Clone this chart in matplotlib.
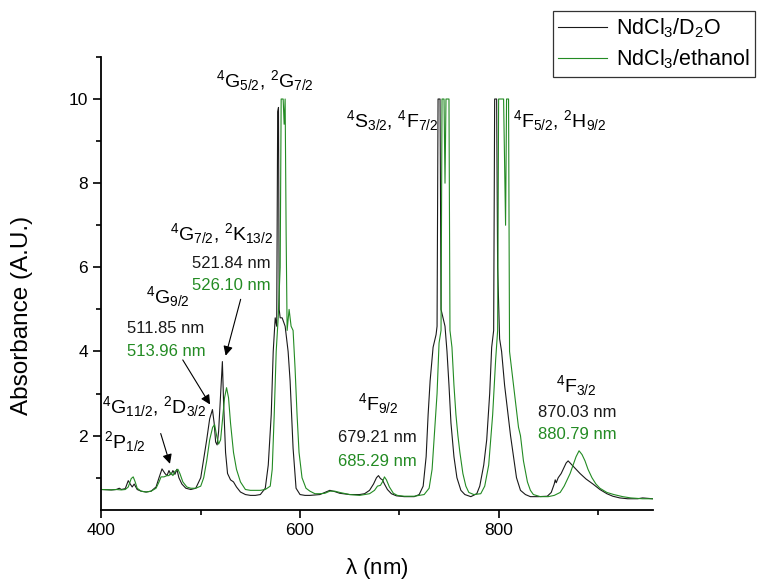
import matplotlib
matplotlib.use('Agg')
import matplotlib.pyplot as plt
from matplotlib.ticker import MultipleLocator

plt.rcParams['font.family'] = ['Liberation Sans', 'DejaVu Sans']
plt.rcParams['mathtext.fontset'] = 'custom'
plt.rcParams['mathtext.rm'] = 'Liberation Sans'
plt.rcParams['mathtext.it'] = 'Liberation Sans'
plt.rcParams['mathtext.default'] = 'regular'

# NdCl3 in D2O
d2o_nm = [400, 410, 415, 418, 420, 424, 427, 429, 431, 433, 436, 440, 445, 450, 455,
          458, 461, 464, 466, 468, 470, 472, 474, 476, 478, 481, 485, 490, 495, 500,
          503, 506, 509, 511.8, 513.5, 515, 516.5, 518, 520, 521.8, 523, 525, 527, 530,
          533, 536, 540, 545, 550, 555, 560, 565, 568, 571, 573, 575, 576.5, 577.5, 578.3,
          579, 580, 582, 585, 588, 590, 593, 596, 600, 605, 610, 620, 625, 630, 635, 640,
          650, 660, 665, 670, 674, 677, 679, 681, 683, 685, 688, 692, 697, 705, 715, 720,
          724, 727, 729, 731, 734, 737, 738, 739, 741, 742, 744, 746, 748, 750, 752, 755,
          758, 762, 766, 772, 778, 781, 785, 788, 791, 793, 795, 796, 798, 799, 801, 803,
          806, 809, 812, 815, 818, 822, 827, 832, 840, 849, 853, 856, 857, 858, 860, 863,
          866, 868, 870, 872, 876, 882, 888, 895, 902, 909, 915, 922, 930, 940, 945, 955]
d2o_abs = [0.72, 0.71, 0.72, 0.75, 0.72, 0.74, 0.93, 0.85, 0.78, 0.85, 0.72, 0.68, 0.66, 0.68, 0.78,
           1.0, 1.21, 1.1, 1.05, 1.17, 1.07, 1.17, 1.08, 1.2, 1.0, 0.85, 0.75, 0.72, 0.75, 1.0,
           1.45, 1.9, 2.4, 2.62, 2.3, 1.85, 1.78, 2.1, 3.0, 3.76, 2.8, 1.6, 1.1, 0.95,
           0.9, 0.78, 0.66, 0.6, 0.58, 0.58, 0.6, 0.75, 1.3, 2.5, 4.0, 4.8, 4.6, 9.7, 9.8,
           5.0, 4.8, 4.8, 4.6, 4.0, 3.3, 1.7, 0.75, 0.6, 0.58, 0.58, 0.6, 0.65, 0.7, 0.67, 0.63,
           0.6, 0.6, 0.62, 0.7, 0.85, 1.0, 1.05, 0.98, 0.95, 0.85, 0.72, 0.62, 0.57, 0.55, 0.55, 0.6,
           0.8, 1.5, 2.5, 3.3, 4.1, 4.4, 4.6, 10, 10, 5.0, 4.8, 4.6, 4.0, 3.2, 2.3, 1.5,
           1.0, 0.7, 0.6, 0.55, 0.62, 0.8, 1.3, 1.9, 3.0, 4.1, 4.5, 10, 10, 6.0, 4.3, 4.0,
           3.2, 2.6, 2.0, 1.5, 1.0, 0.7, 0.6, 0.55, 0.55, 0.56, 0.65, 0.85, 0.95, 0.88, 1.0, 1.1,
           1.25, 1.35, 1.4, 1.35, 1.25, 1.1, 0.97, 0.85, 0.72, 0.62, 0.56, 0.52, 0.5, 0.5, 0.52, 0.5]

# NdCl3 in ethanol
eth_nm = [400, 410, 415, 420, 424, 427, 430, 432, 434, 436, 440, 445, 450, 455, 458,
          460, 463, 466, 468, 470, 472, 474, 477, 479, 482, 486, 490, 495, 500, 503,
          506, 509, 512, 514, 516, 518, 520, 522, 524, 526, 528, 530, 533, 536, 540,
          545, 550, 555, 560, 565, 570, 572, 574, 576, 578, 580, 581, 583, 584, 585,
          586, 587, 589, 591, 593, 595, 597, 599, 602, 606, 610, 615, 620, 625, 630,
          635, 640, 650, 660, 670, 675, 678, 681, 683, 685, 687, 690, 694, 698, 705,
          715, 725, 730, 733, 736, 738, 740, 742, 743, 745, 746, 747, 750, 751, 753,
          755, 757, 759, 761, 764, 767, 770, 775, 782, 786, 790, 794, 797, 799, 800,
          805, 807, 808, 810, 811, 813, 815, 818, 820, 822, 825, 829, 832, 835, 842,
          850, 856, 862, 866, 869, 872, 875, 878, 881, 884, 887, 890, 894, 898, 902,
          909, 916, 925, 933, 945, 955]
eth_abs = [0.72, 0.71, 0.72, 0.71, 0.72, 0.78, 0.98, 1.02, 0.9, 0.75, 0.68, 0.66, 0.68, 0.75, 0.9,
           1.02, 1.02, 1.05, 1.05, 1.12, 1.05, 1.15, 1.2, 1.1, 0.9, 0.78, 0.75, 0.75, 0.8, 1.0,
           1.4, 1.9, 2.2, 2.26, 2.0, 1.8, 1.9, 2.4, 2.9, 3.14, 2.9, 2.3, 1.6, 1.2, 0.9,
           0.72, 0.7, 0.7, 0.7, 0.72, 0.8, 1.2, 2.5, 4.0, 4.8, 6.0, 10, 10, 9.4, 10,
           6.8, 4.5, 5.0, 4.6, 4.5, 3.6, 2.5, 1.6, 1.0, 0.75, 0.68, 0.62, 0.62, 0.63, 0.68,
           0.68, 0.65, 0.6, 0.58, 0.62, 0.7, 0.8, 0.82, 0.9, 1.02, 0.95, 0.78, 0.63, 0.58, 0.56,
           0.56, 0.6, 0.75, 1.2, 2.3, 3.0, 4.2, 4.5, 10, 10, 8.0, 10, 10, 4.5, 4.1,
           3.2, 2.5, 2.0, 1.6, 1.1, 0.8, 0.65, 0.6, 0.62, 0.8, 1.3, 2.5, 3.8, 4.5, 10,
           10, 7.0, 10, 10, 4.0, 3.6, 3.2, 2.6, 2.2, 2.0, 1.4, 0.9, 0.7, 0.6, 0.55,
           0.55, 0.58, 0.65, 0.8, 0.95, 1.1, 1.3, 1.5, 1.64, 1.55, 1.4, 1.2, 1.0, 0.85, 0.75,
           0.65, 0.6, 0.55, 0.52, 0.5, 0.5]

BLACK = '#1a1a1a'
GREEN = '#238b23'

fig = plt.figure(figsize=(7.57, 5.81), dpi=100)
ax = fig.add_axes([0.134, 0.122, 0.728, 0.78])

l1, = ax.plot(d2o_nm, d2o_abs, color=BLACK, lw=0.8)
l2, = ax.plot(eth_nm, eth_abs, color=GREEN, lw=0.8)

ax.set_xlim(400, 955)
ax.set_ylim(0.23, 11.0)
ax.xaxis.set_major_locator(MultipleLocator(200))
ax.xaxis.set_minor_locator(MultipleLocator(100))
ax.yaxis.set_minor_locator(MultipleLocator(1))
ax.set_yticks([2, 4, 6, 8, 10])
ax.spines['top'].set_visible(False)
ax.spines['right'].set_visible(False)
for s in ('left', 'bottom'):
    ax.spines[s].set_linewidth(1.3)
ax.tick_params(which='major', length=6, width=1.2, labelsize=12.5, direction='out')
ax.tick_params(which='minor', length=3.5, width=1.2, direction='out')

ax.set_xlabel(r'$\lambda$ (nm)', fontsize=16)
ax.set_ylabel('Absorbance (A.U.)', fontsize=17.5)
ax.xaxis.set_label_coords(0.5, -0.102)
ax.yaxis.set_label_coords(-0.125, 0.43)

# level labels
big = 14
ax.text(565, 10.45, r'$^{4}$G$_{5/2}$, $^{2}$G$_{7/2}$', fontsize=big, ha='center', va='center')
ax.text(693, 9.5, r'$^{4}$S$_{3/2}$, $^{4}$F$_{7/2}$', fontsize=big, ha='center', va='center')
ax.text(862, 9.5, r'$^{4}$F$_{5/2}$, $^{2}$H$_{9/2}$', fontsize=big, ha='center', va='center')
ax.text(573, 6.8, r'$^{4}$G$_{7/2}$, $^{2}$K$_{13/2}$', fontsize=big, ha='right', va='center')
ax.text(570, 6.1, '521.84 nm', fontsize=12, ha='right', va='center', color=BLACK)
ax.text(570, 5.57, '526.10 nm', fontsize=12, ha='right', va='center', color=GREEN)
ax.text(467, 5.3, r'$^{4}$G$_{9/2}$', fontsize=big, ha='center', va='center')
ax.text(465, 4.55, '511.85 nm', fontsize=12, ha='center', va='center', color=BLACK)
ax.text(465, 4.0, '513.96 nm', fontsize=12, ha='center', va='center', color=GREEN)
ax.text(453, 2.7, r'$^{4}$G$_{11/2}$, $^{2}$D$_{3/2}$', fontsize=big, ha='center', va='center')
ax.text(424, 1.86, r'$^{2}$P$_{1/2}$', fontsize=big, ha='center', va='center')
ax.text(679, 2.76, r'$^{4}$F$_{9/2}$', fontsize=big, ha='center', va='center')
ax.text(678, 1.95, '679.21 nm', fontsize=12, ha='center', va='center', color=BLACK)
ax.text(678, 1.38, '685.29 nm', fontsize=12, ha='center', va='center', color=GREEN)
ax.text(878, 3.2, r'$^{4}$F$_{3/2}$', fontsize=big, ha='center', va='center')
ax.text(879, 2.55, '870.03 nm', fontsize=12, ha='center', va='center', color=BLACK)
ax.text(879, 2.02, '880.79 nm', fontsize=12, ha='center', va='center', color=GREEN)

arrow = dict(arrowstyle='-|>', color='k', lw=0.8, mutation_scale=14, shrinkA=0, shrinkB=0)
ax.annotate('', xy=(525.1, 3.9), xytext=(540.2, 5.24), arrowprops=arrow)
ax.annotate('', xy=(509.4, 2.74), xytext=(481.9, 3.8), arrowprops=arrow)
ax.annotate('', xy=(469, 1.33), xytext=(459.7, 2.05), arrowprops=arrow)

leg = fig.legend([l1, l2], [r'NdCl$_3$/D$_2$O', r'NdCl$_3$/ethanol'],
                 loc='upper right', bbox_to_anchor=(0.998, 0.981), fontsize=15.5,
                 frameon=True, fancybox=False, handlelength=2.3, borderpad=0.25,
                 labelspacing=0.35, handletextpad=0.4, borderaxespad=0)
leg.get_frame().set_edgecolor('k')
leg.get_frame().set_linewidth(0.9)

fig.savefig('out.png', dpi=100)
